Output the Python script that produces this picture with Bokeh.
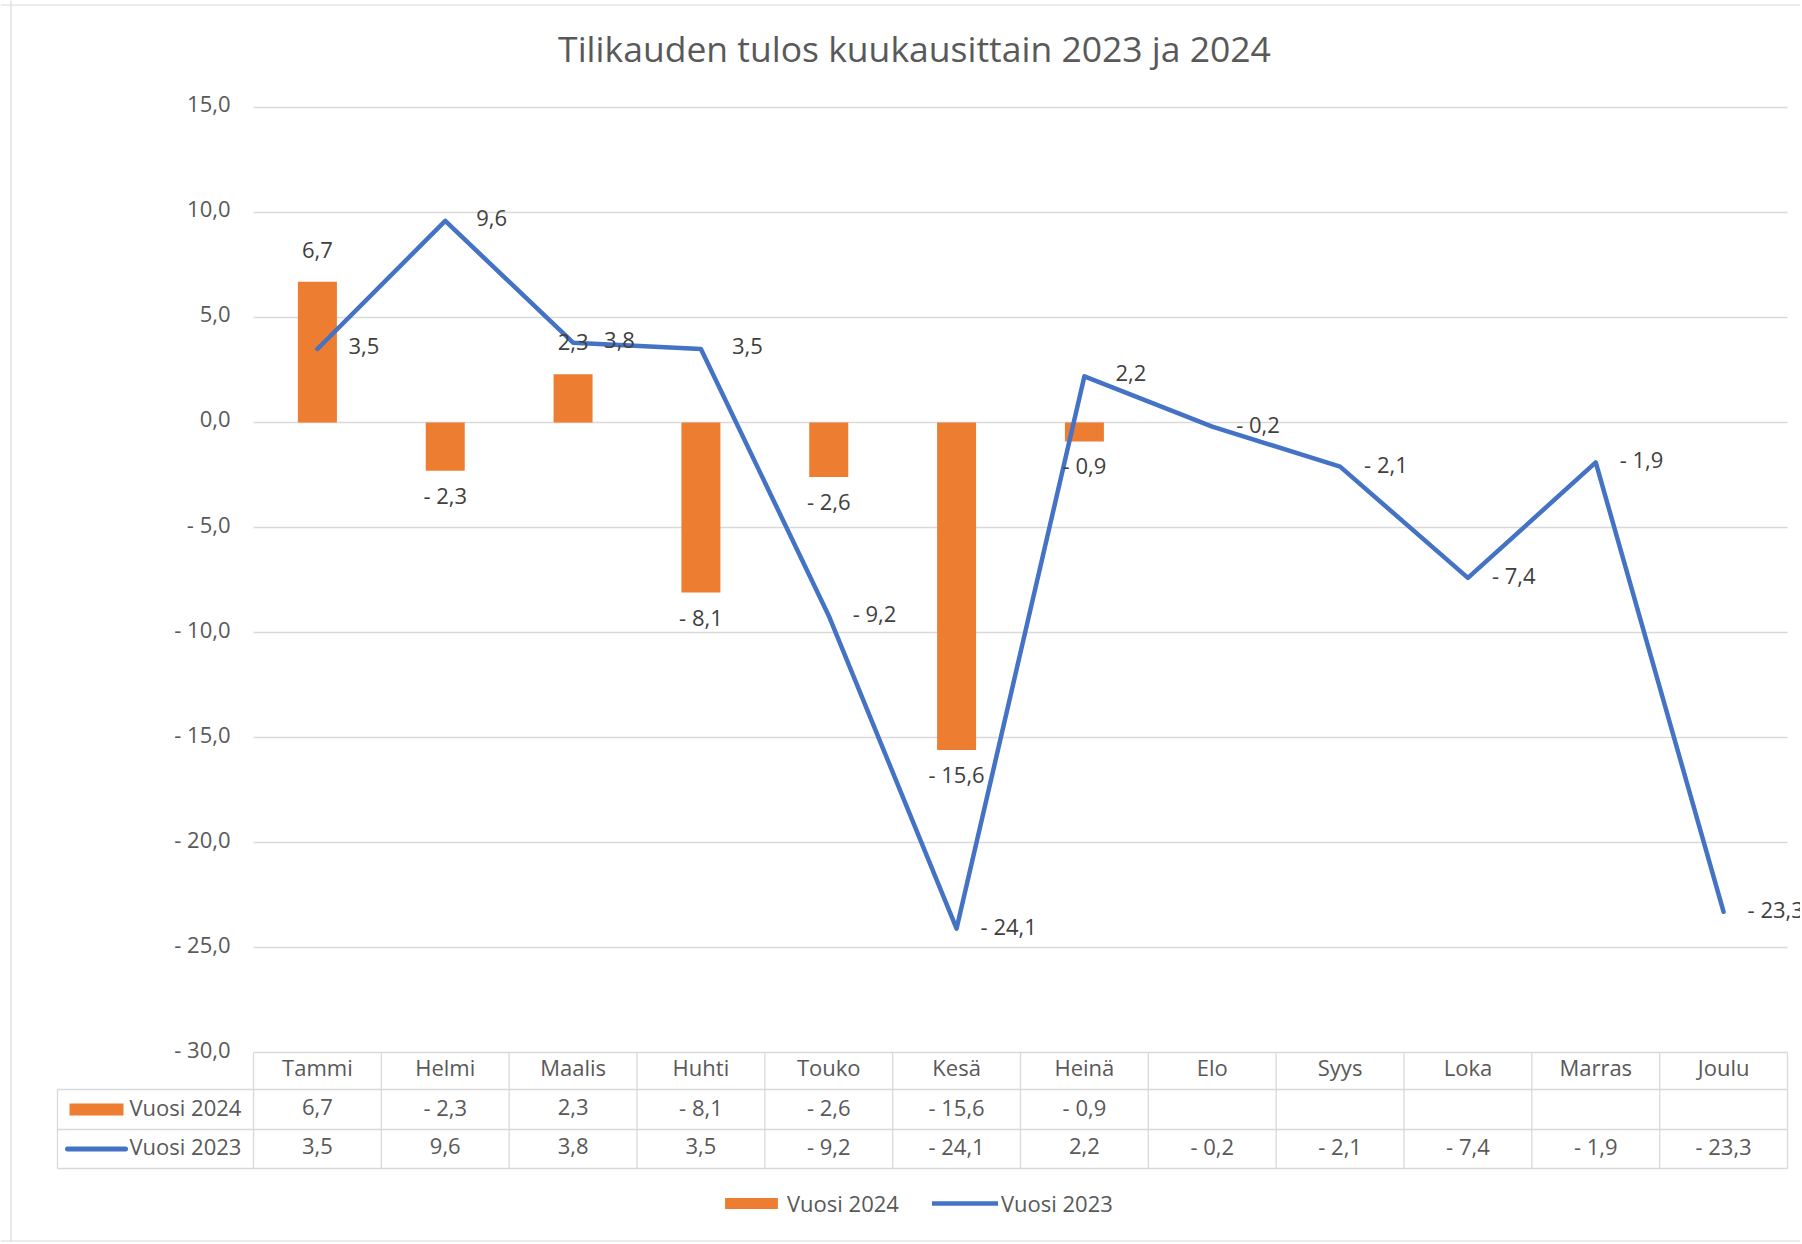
import numpy as np
from bokeh.plotting import figure
from bokeh.models import Range1d, Span, Legend, LegendItem
from bokeh.core.properties import value
from bokeh.embed import file_html
from bokeh.resources import INLINE

# ---------------- data ----------------
title_text = "Tilikauden tulos kuukausittain 2023 ja 2024"
months = ["Tammi", "Helmi", "Maalis", "Huhti", "Touko", "Kesä",
          "Heinä", "Elo", "Syys", "Loka", "Marras", "Joulu"]
series_names = ["Vuosi 2024", "Vuosi 2023"]
vuosi_2024 = [6.7, -2.3, 2.3, -8.1, -2.6, -15.6, -0.9]
vuosi_2023 = [3.5, 9.6, 3.8, 3.5, -9.2, -24.1, 2.2, -0.2, -2.1, -7.4, -1.9, -23.3]
y_ticks = [15, 10, 5, 0, -5, -10, -15, -20, -25, -30]


def fmt(v):
    s = f"{abs(v):.1f}".replace(".", ",")
    return "- " + s if v < 0 else s


# ---------------- layout (page pixels) ----------------
W, H = 1800, 1242
ORIGIN = 0
X_LEFT_PX, X_RIGHT_PX = 253, 1787
ZERO_PX = 422
UNIT_PX = 21.0
CAT_PX = (X_RIGHT_PX - X_LEFT_PX) / len(months)

HDR_TOP_PX, ROW1_TOP_PX, ROW2_TOP_PX, TABLE_BOT_PX = 1052, 1089, 1129, 1168
TABLE_LEFT_PX = 57
DY = -3  # vertical nudge for middle-aligned texts

FONT = value("Open Sans")
GRID = "#D9D9D9"
TXT = "#595959"
LBL = "#404040"
ORANGE = "#ED7D31"
BLUE = "#4472C4"
FS = "22px"


def xd(px):
    return (px - X_LEFT_PX) / CAT_PX


def yd(py):
    return (ZERO_PX - py) / UNIT_PX


n_cat = len(months)
x_c = np.arange(n_cat) + 0.5

p = figure(width=W, height=H,
           x_range=Range1d(xd(ORIGIN), xd(ORIGIN + W)),
           y_range=Range1d(yd(ORIGIN + H), yd(ORIGIN)),
           output_backend="svg", toolbar_location=None, tools="",
           x_axis_location=None, y_axis_location=None, min_border=0)
p.outline_line_color = None
p.background_fill_color = "white"
p.border_fill_color = "white"
p.grid.visible = False

# outer chart border (right side lies outside the picture)
p.add_layout(Span(location=xd(10.5), dimension="height", line_color=GRID, line_width=1.2))
p.add_layout(Span(location=yd(4.5), dimension="width", line_color=GRID, line_width=1.2))
p.add_layout(Span(location=yd(1240.5), dimension="width", line_color=GRID, line_width=1.2))

# title
p.text(x=[xd(914)], y=[yd(47)], text=[title_text], text_align="center",
       text_baseline="alphabetic", text_font=FONT, text_font_size="35.5px", text_color=TXT)

# gridlines + y tick labels
nt = len(y_ticks)
p.segment(x0=[0] * nt, x1=[n_cat] * nt, y0=y_ticks, y1=y_ticks, line_color=GRID, line_width=1.3)
p.text(x=[0] * nt, y=y_ticks, text=[fmt(t) for t in y_ticks], x_offset=-23, y_offset=DY - 1,
       text_align="right", text_baseline="middle", text_font=FONT, text_font_size=FS,
       text_color=TXT)

# bars (2024) and line (2023)
n24 = len(vuosi_2024)
bars = p.vbar(x=x_c[:n24], top=vuosi_2024, bottom=0, width=0.305,
              fill_color=ORANGE, line_color=None)
line = p.line(x=x_c, y=vuosi_2023, line_color=BLUE, line_width=4.5,
              line_cap="round", line_join="round")

# data labels
v24 = np.array(vuosi_2024)
p.text(x=x_c[:n24], y=vuosi_2024, text=[fmt(v) for v in vuosi_2024],
       y_offset=np.where(v24 >= 0, -29, 27) + DY, text_align="center", text_baseline="middle",
       text_font=FONT, text_font_size=FS, text_color=LBL)
v23 = np.array(vuosi_2023)
p.text(x=x_c, y=vuosi_2023, text=[fmt(v) for v in vuosi_2023],
       x_offset=np.where(v23 >= 0, 31, 24), y_offset=DY, text_align="left",
       text_baseline="middle", text_font=FONT, text_font_size=FS, text_color=LBL)

# ---------------- data table ----------------
bounds = np.arange(n_cat + 1)
p.segment(x0=bounds, x1=bounds, y0=[yd(HDR_TOP_PX)] * len(bounds),
          y1=[yd(TABLE_BOT_PX)] * len(bounds), line_color=GRID, line_width=1.3)
p.segment(x0=[xd(TABLE_LEFT_PX)], x1=[xd(TABLE_LEFT_PX)], y0=[yd(ROW1_TOP_PX)],
          y1=[yd(TABLE_BOT_PX)], line_color=GRID, line_width=1.3)
hy = [yd(ROW1_TOP_PX), yd(ROW2_TOP_PX), yd(TABLE_BOT_PX)]
p.segment(x0=[xd(TABLE_LEFT_PX)] * 3, x1=[n_cat] * 3, y0=hy, y1=hy,
          line_color=GRID, line_width=1.3)

y_hdr = yd((HDR_TOP_PX + ROW1_TOP_PX) / 2)
y_r1 = yd((ROW1_TOP_PX + ROW2_TOP_PX) / 2)
y_r2 = yd((ROW2_TOP_PX + TABLE_BOT_PX) / 2)

p.text(x=x_c, y=[y_hdr] * n_cat, text=months, y_offset=DY - 1, text_align="center",
       text_baseline="middle", text_font=FONT, text_font_size=FS, text_color=TXT)
p.text(x=x_c[:n24], y=[y_r1] * n24, text=[fmt(v) for v in vuosi_2024], y_offset=DY,
       text_align="center", text_baseline="middle", text_font=FONT, text_font_size=FS,
       text_color=TXT)
p.text(x=x_c, y=[y_r2] * n_cat, text=[fmt(v) for v in vuosi_2023], y_offset=DY,
       text_align="center", text_baseline="middle", text_font=FONT, text_font_size=FS,
       text_color=TXT)
p.text(x=[xd(129)] * 2, y=[y_r1, y_r2], text=series_names, y_offset=DY, text_align="left",
       text_baseline="middle", text_font=FONT, text_font_size=FS, text_color=TXT)

# table keys
p.rect(x=[xd(96)], y=[y_r1], width=54, height=12, width_units="screen",
       height_units="screen", fill_color=ORANGE, line_color=None)
p.segment(x0=[xd(67)], x1=[xd(125)], y0=[y_r2], y1=[y_r2], line_color=BLUE,
          line_width=5, line_cap="round")

# ---------------- legend ----------------
legend = Legend(items=[LegendItem(label=series_names[0], renderers=[bars]),
                       LegendItem(label=series_names[1], renderers=[line])],
                orientation="horizontal", location=(718, 24),
                glyph_width=66, glyph_height=14, label_height=14, label_standoff=3,
                spacing=33, padding=0, margin=0, border_line_color=None,
                background_fill_alpha=0, label_text_font="Open Sans",
                label_text_font_size=FS, label_text_color=TXT)
p.add_layout(legend, "center")

open("out.html", "w").write(file_html(p, INLINE))
